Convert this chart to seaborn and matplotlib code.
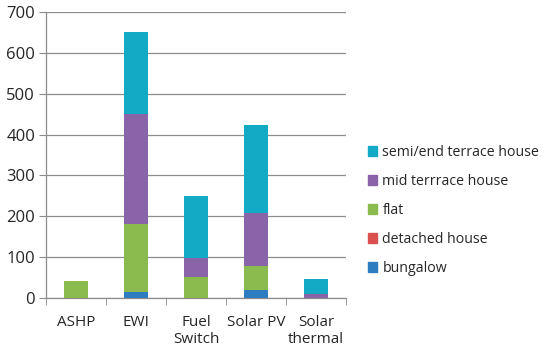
import numpy as np
import pandas as pd
import matplotlib
matplotlib.use("Agg")
import matplotlib.pyplot as plt
from matplotlib.patches import Patch
import seaborn as sns

categories = ["ASHP", "EWI", "Fuel\nSwitch", "Solar PV", "Solar\nthermal"]
bungalow = [0, 15, 0, 20, 0]
detached = [0, 0, 0, 0, 0]
flat = [42, 166, 52, 58, 0]
mid_terrace = [0, 269, 45, 130, 10]
semi_terrace = [0, 200, 153, 215, 36]

series_names = ["bungalow", "detached house", "flat", "mid terrrace house", "semi/end terrace house"]
series_values = [bungalow, detached, flat, mid_terrace, semi_terrace]
colors = ["#2D7DC0", "#D9504E", "#8BBB4F", "#8A64A8", "#13AAC6"]

sns.set_style("white")
plt.rcParams["font.family"] = ["Open Sans", "DejaVu Sans"]

fig = plt.figure(figsize=(5.5, 3.52), dpi=100)
ax = fig.add_axes([0.084, 0.153, 0.545, 0.813])

# cumulative totals, drawn from the top series down so each covers the ones below
cum = np.cumsum(np.array(series_values), axis=0)
for i in range(len(series_names) - 1, -1, -1):
    df = pd.DataFrame({"cat": categories, "val": cum[i]})
    sns.barplot(data=df, x="cat", y="val", color=colors[i], saturation=1,
                width=0.4, linewidth=0, ax=ax, zorder=3)

ax.set_ylim(0, 700)
ax.set_xlim(-0.5, len(categories) - 0.5)
ax.set_yticks(range(0, 701, 100))
ax.yaxis.grid(True, color="#8C8C8C", linewidth=0.9, zorder=0)
ax.set_axisbelow(True)
ax.set_xlabel("")
ax.set_ylabel("")

for s in ["top", "right"]:
    ax.spines[s].set_visible(False)
for s in ["left", "bottom"]:
    ax.spines[s].set_color("#8C8C8C")
    ax.spines[s].set_linewidth(0.9)

# tick marks between categories
ax.set_xticks(np.arange(-0.5, len(categories), 1.0), minor=True)
ax.tick_params(axis="x", which="minor", length=5, color="#8C8C8C", direction="out", bottom=True)
ax.tick_params(axis="x", which="major", length=0, pad=12, labelsize=11)
ax.tick_params(axis="y", length=5, color="#8C8C8C", direction="out", left=True, pad=3, labelsize=12)

handles = [Patch(color=colors[i], label=series_names[i]) for i in range(len(series_names) - 1, -1, -1)]
fig.legend(handles=handles, loc="center left", bbox_to_anchor=(0.645, 0.402),
           frameon=False, fontsize=10.2, handlelength=0.7, handleheight=0.7,
           handletextpad=0.35, labelspacing=0.98)

fig.savefig("out.png", dpi=100)
